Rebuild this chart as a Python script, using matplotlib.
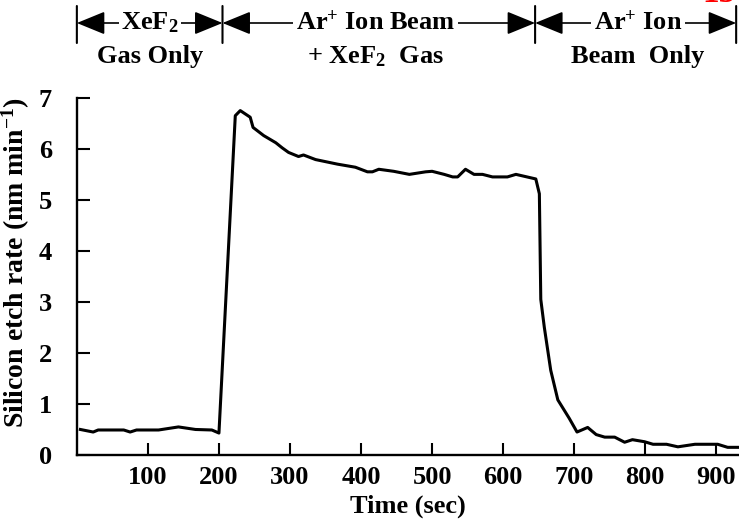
import matplotlib
matplotlib.use("Agg")
import matplotlib.pyplot as plt

# ---------------------------------------------------------------------------
# data
# ---------------------------------------------------------------------------
time_sec = [5, 23, 30, 66, 75, 84, 115, 143, 167, 190, 200,
            223, 230, 244, 248, 263, 280, 289, 298, 312, 319, 336, 367,
            392, 409, 416, 425, 446, 468, 491, 500, 517, 529, 536, 547,
            559, 571, 585, 606, 618, 646, 651, 653, 658, 667, 677, 693,
            704, 719, 731, 743, 757, 771, 782, 799, 811, 830, 846, 870,
            902, 916, 932]
etch_rate = [0.50, 0.45, 0.49, 0.49, 0.45, 0.49, 0.49, 0.55, 0.50, 0.49, 0.43,
             6.65, 6.75, 6.62, 6.42, 6.26, 6.12, 6.02, 5.93, 5.85, 5.88, 5.79, 5.70,
             5.64, 5.55, 5.55, 5.60, 5.56, 5.50, 5.55, 5.56, 5.50, 5.45, 5.45, 5.60,
             5.50, 5.50, 5.45, 5.45, 5.50, 5.41, 5.12, 3.05, 2.50, 1.66, 1.08, 0.72,
             0.45, 0.54, 0.40, 0.35, 0.35, 0.25, 0.30, 0.26, 0.21, 0.21, 0.16, 0.21,
             0.21, 0.15, 0.15]

x_ticks = [100, 200, 300, 400, 500, 600, 700, 800, 900]
y_ticks = [0, 1, 2, 3, 4, 5, 6, 7]

# phase boundaries (sec) and their labels
phase_edges = [0, 205, 645, 928]
phase_top = [r"XeF$_\mathbf{2}$", r"Ar$^\mathbf{+}$ Ion Beam", r"Ar$^\mathbf{+}$ Ion"]
phase_bottom = ["Gas Only", r"+ XeF$_\mathbf{2}$  Gas", "Beam  Only"]
phase_centers = [103, 420, 790]

FS = 19

plt.rcParams["font.family"] = ["Liberation Serif", "DejaVu Serif"]
plt.rcParams["font.weight"] = "bold"
plt.rcParams["mathtext.fontset"] = "custom"
plt.rcParams["mathtext.rm"] = "Liberation Serif:bold"
plt.rcParams["mathtext.bf"] = "Liberation Serif:bold"
plt.rcParams["mathtext.it"] = "Liberation Serif:bold"

fig = plt.figure(figsize=(7.39, 5.26), dpi=100)
ax = fig.add_axes([0.104, 0.135, 0.896, 0.679])

ax.plot(time_sec, etch_rate, color="black", linewidth=2.2, clip_on=False)

ax.set_xlim(0, 932)
ax.set_ylim(0, 7)
ax.set_xticks(x_ticks)
ax.set_yticks(y_ticks)
ax.tick_params(direction="in", length=9, width=1.5, labelsize=FS)
ax.tick_params(axis="x", pad=8)
ax.tick_params(axis="y", pad=18)
for lab in ax.get_xticklabels() + ax.get_yticklabels():
    lab.set_fontweight("bold")

for side in ["top", "right"]:
    ax.spines[side].set_visible(False)
for side in ["left", "bottom"]:
    ax.spines[side].set_linewidth(1.7)

ax.set_xlabel("Time (sec)", fontsize=FS, fontweight="bold", labelpad=4)
ax.set_ylabel(r"Silicon etch rate (nm min$^\mathbf{-1}$)", fontsize=20,
              fontweight="bold")
ax.yaxis.set_label_coords(-0.067, 0.54)

# phase annotations above the plot
y_arrow = 1 - 23 / 526
for x0 in phase_edges:
    ax.annotate("", xy=(x0, 1 - 43 / 526), xytext=(x0, 1 - 6 / 526),
                xycoords=("data", "figure fraction"),
                textcoords=("data", "figure fraction"),
                arrowprops=dict(arrowstyle="-", lw=1.5, color="black",
                                shrinkA=0, shrinkB=0),
                annotation_clip=False)
for i in range(len(phase_edges) - 1):
    a, b = phase_edges[i], phase_edges[i + 1]
    ax.annotate("", xy=(b, y_arrow), xytext=(a, y_arrow),
                xycoords=("data", "figure fraction"),
                textcoords=("data", "figure fraction"),
                arrowprops=dict(arrowstyle="<|-|>,head_length=1.1,head_width=0.45",
                                lw=1.2, color="black", mutation_scale=16,
                                shrinkA=0, shrinkB=0),
                annotation_clip=False)
    ax.annotate(phase_top[i], xy=(phase_centers[i], y_arrow),
                xycoords=("data", "figure fraction"),
                ha="center", va="center", fontsize=FS, fontweight="bold",
                bbox=dict(boxstyle="square,pad=0.1", fc="white", ec="none"),
                annotation_clip=False)
    ax.annotate(phase_bottom[i], xy=(phase_centers[i], 1 - 57 / 526),
                xycoords=("data", "figure fraction"),
                ha="center", va="center", fontsize=FS, fontweight="bold",
                annotation_clip=False)

# slide number, cut by the top edge as in the source
fig.text(0.995, 1.012, "15", color="red", fontsize=24, fontweight="bold",
         ha="right", va="center")

fig.savefig("out.png", dpi=100)
